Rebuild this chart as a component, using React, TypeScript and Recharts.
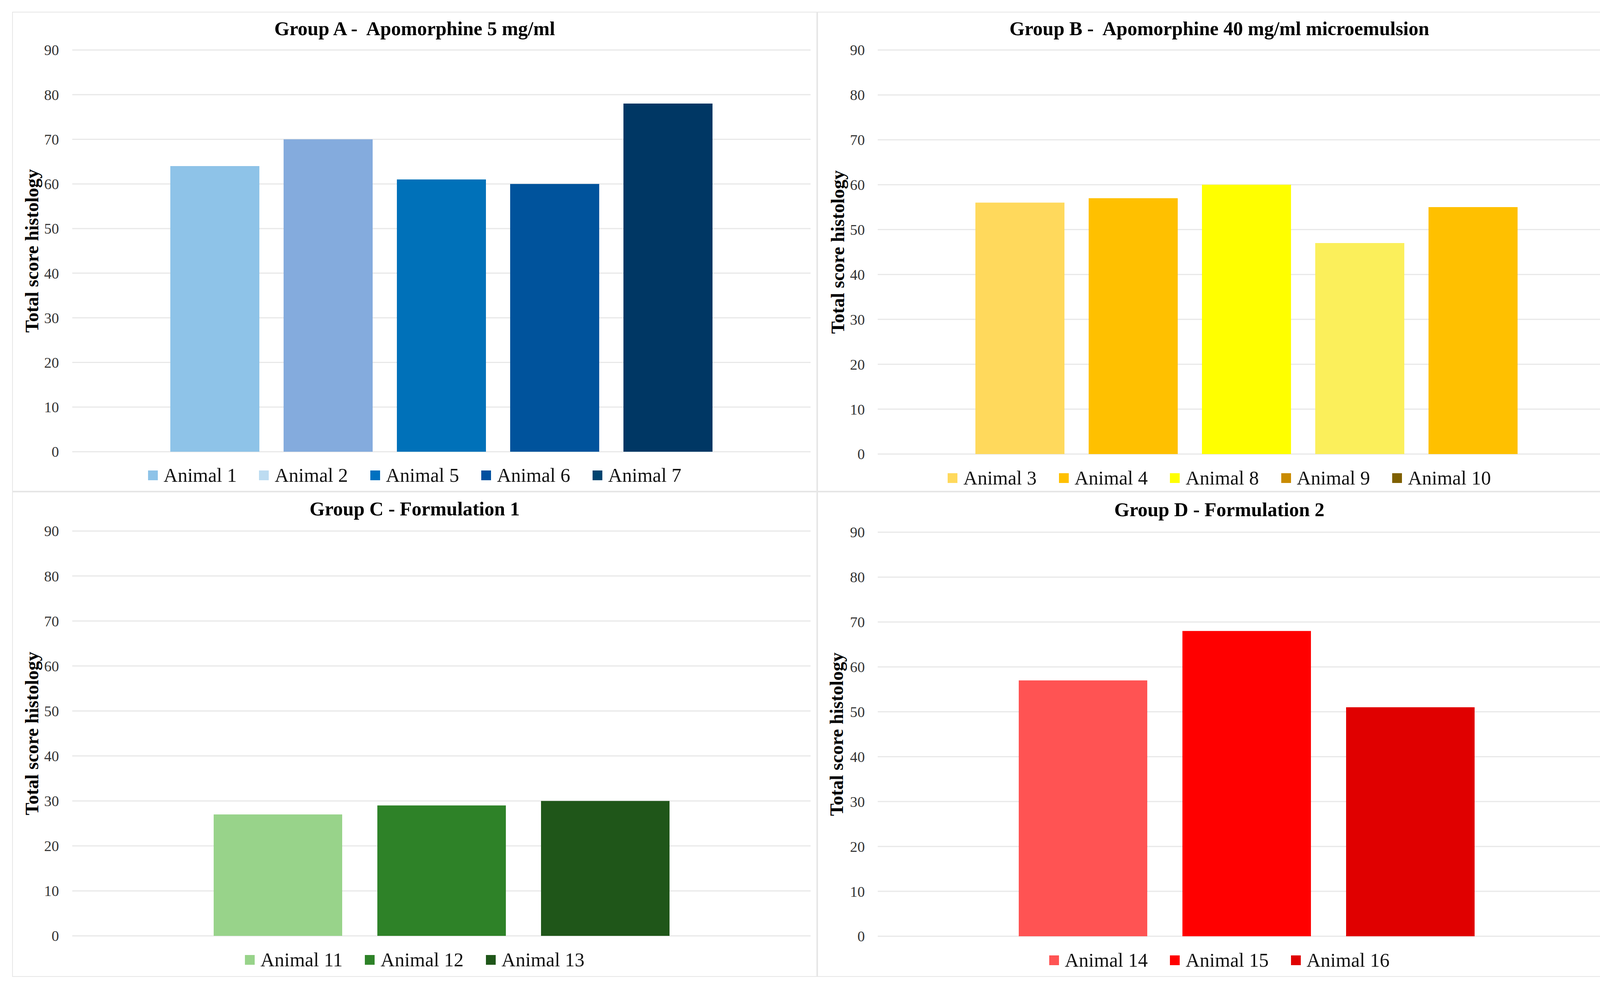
import React from 'react';
import { BarChart, Bar, XAxis, YAxis, CartesianGrid, Legend } from 'recharts';

// values
const yTicks = [0, 10, 20, 30, 40, 50, 60, 70, 80, 90];

const groupANames = ['Animal 1', 'Animal 2', 'Animal 5', 'Animal 6', 'Animal 7'];
const groupAValues = [64, 70, 61, 60, 78];
const groupABarColors = ['#8ec3e8', '#84abdd', '#0071b9', '#00539c', '#003764'];
const groupALegendColors = ['#8ec3e8', '#bddcf1', '#0071c0', '#00509f', '#004470'];

const groupBNames = ['Animal 3', 'Animal 4', 'Animal 8', 'Animal 9', 'Animal 10'];
const groupBValues = [56, 57, 60, 47, 55];
const groupBBarColors = ['#ffd95c', '#ffc000', '#ffff00', '#fbef5b', '#ffc000'];
const groupBLegendColors = ['#ffd95c', '#ffc000', '#ffff00', '#c98b00', '#7f6000'];

const groupCNames = ['Animal 11', 'Animal 12', 'Animal 13'];
const groupCValues = [27, 29, 30];
const groupCColors = ['#98d38a', '#2e8228', '#1f5619'];

const groupDNames = ['Animal 14', 'Animal 15', 'Animal 16'];
const groupDValues = [57, 68, 51];
const groupDColors = ['#ff5353', '#ff0000', '#e00000'];

const FONT = '"Liberation Serif", "Times New Roman", serif';

const toRow = (names: string[], values: number[]) => {
  const row: Record<string, any> = { name: 'group' };
  names.forEach((n, i) => (row[n] = values[i]));
  return [row];
};

const YLabel = (props: any) => {
  const vb = props.viewBox || { x: 0, y: 0, width: 0, height: 0 };
  const cx = (vb.x || 0) + props.offsetX;
  const cy = (vb.y || 0) + vb.height / 2;
  return (
    <text
      x={cx}
      y={cy}
      transform={`rotate(-90 ${cx} ${cy})`}
      textAnchor="middle"
      dominantBaseline="central"
      fontFamily={FONT}
      fontWeight="bold"
      fontSize={48}
      fill="#000"
    >
      Total score histology
    </text>
  );
};

interface PanelProps {
  title: string;
  names: string[];
  values: number[];
  barColors: string[];
  legendColors: string[];
  left: number;
  top: number;
  width: number;
  height: number;
  plotTop: number;
  plotBottom: number;
  axisWidth: number;
  rightMargin: number;
  tickMargin: number;
  labelX: number;
  titleY: number;
  legendY: number;
  barSize: number;
  barGap: number;
}

function Panel(p: PanelProps) {
  const data = toRow(p.names, p.values);
  const w = p.width - 4;
  const h = p.height - 4;
  const legendH = h - p.plotBottom;

  const renderLegend = (props: any) => {
    // keep the series order (recharts sorts legend items by name)
    const items = [...(props.payload || [])].sort(
      (a: any, b: any) => p.names.indexOf(a.value) - p.names.indexOf(b.value)
    );
    return (
      <div
        style={{
          height: legendH,
          boxSizing: 'border-box',
          paddingTop: p.legendY - 25,
          display: 'flex',
          justifyContent: 'center',
          alignItems: 'flex-start',
        }}
      >
        {items.map((entry: any, i: number) => (
          <div
            key={entry.value}
            style={{ display: 'flex', alignItems: 'center', marginRight: i < items.length - 1 ? 57 : 0 }}
          >
            <span
              style={{
                display: 'inline-block',
                width: 25,
                height: 25,
                background: p.legendColors[p.names.indexOf(entry.value)],
                marginRight: 15,
              }}
            />
            <span style={{ fontFamily: FONT, fontSize: 50, lineHeight: '50px', color: '#111' }}>{entry.value}</span>
          </div>
        ))}
      </div>
    );
  };

  return (
    <div
      style={{
        position: 'absolute',
        left: p.left,
        top: p.top,
        width: p.width,
        height: p.height,
        border: '2px solid #e6e6e6',
        boxSizing: 'border-box',
        background: '#fff',
      }}
    >
      <div
        style={{
          position: 'absolute',
          left: 0,
          top: p.titleY - 28,
          width: w,
          textAlign: 'center',
          fontFamily: FONT,
          fontWeight: 'bold',
          fontSize: 50,
          lineHeight: '56px',
          whiteSpace: 'pre',
          color: '#000',
          zIndex: 2,
        }}
      >
        {p.title}
      </div>
      <BarChart
        width={w}
        height={h}
        data={data}
        margin={{ top: p.plotTop, right: p.rightMargin, bottom: 0, left: 0 }}
        barSize={p.barSize}
        barGap={p.barGap}
      >
        <CartesianGrid vertical={false} stroke="#e8e8e8" strokeWidth={3} />
        <XAxis dataKey="name" hide />
        <YAxis
          width={p.axisWidth}
          domain={[0, 90]}
          ticks={yTicks}
          interval={0}
          axisLine={false}
          tickLine={false}
          tickSize={0}
          tickMargin={p.tickMargin}
          tick={{ fontFamily: FONT, fontSize: 38, fill: '#333' }}
          label={<YLabel offsetX={p.labelX} />}
        />
        <Legend
          verticalAlign="bottom"
          content={renderLegend}
          wrapperStyle={{ left: 0, width: w, height: legendH }}
        />
        {p.names.map((n, i) => (
          <Bar key={n} dataKey={n} name={n} fill={p.barColors[i]} isAnimationActive={false} />
        ))}
      </BarChart>
    </div>
  );
}

export default function App() {
  return (
    <div style={{ position: 'absolute', left: 0, top: 0, width: 4180, height: 2531, background: '#fff' }}>
      <Panel
        title="Group A -  Apomorphine 5 mg/ml"
        names={groupANames}
        values={groupAValues}
        barColors={groupABarColors}
        legendColors={groupALegendColors}
        left={31}
        top={30}
        width={2061}
        height={1228}
        plotTop={96}
        plotBottom={1124}
        axisWidth={152}
        rightMargin={15}
        tickMargin={34}
        labelX={48}
        titleY={41}
        legendY={60}
        barSize={228}
        barGap={62}
      />
      <Panel
        title="Group B -  Apomorphine 40 mg/ml microemulsion"
        names={groupBNames}
        values={groupBValues}
        barColors={groupBBarColors}
        legendColors={groupBLegendColors}
        left={2092}
        top={30}
        width={2059}
        height={1228}
        plotTop={96}
        plotBottom={1130}
        axisWidth={153}
        rightMargin={14}
        tickMargin={33}
        labelX={50}
        titleY={41}
        legendY={61}
        barSize={228}
        barGap={62}
      />
      <Panel
        title="Group C - Formulation 1"
        names={groupCNames}
        values={groupCValues}
        barColors={groupCColors}
        legendColors={groupCColors}
        left={31}
        top={1258}
        width={2061}
        height={1242}
        plotTop={99}
        plotBottom={1135}
        axisWidth={152}
        rightMargin={15}
        tickMargin={34}
        labelX={48}
        titleY={42}
        legendY={61}
        barSize={329}
        barGap={90}
      />
      <Panel
        title="Group D - Formulation 2"
        names={groupDNames}
        values={groupDValues}
        barColors={groupDColors}
        legendColors={groupDColors}
        left={2092}
        top={1258}
        width={2059}
        height={1242}
        plotTop={102}
        plotBottom={1136}
        axisWidth={153}
        rightMargin={14}
        tickMargin={33}
        labelX={47}
        titleY={44}
        legendY={61}
        barSize={329}
        barGap={90}
      />
    </div>
  );
}
